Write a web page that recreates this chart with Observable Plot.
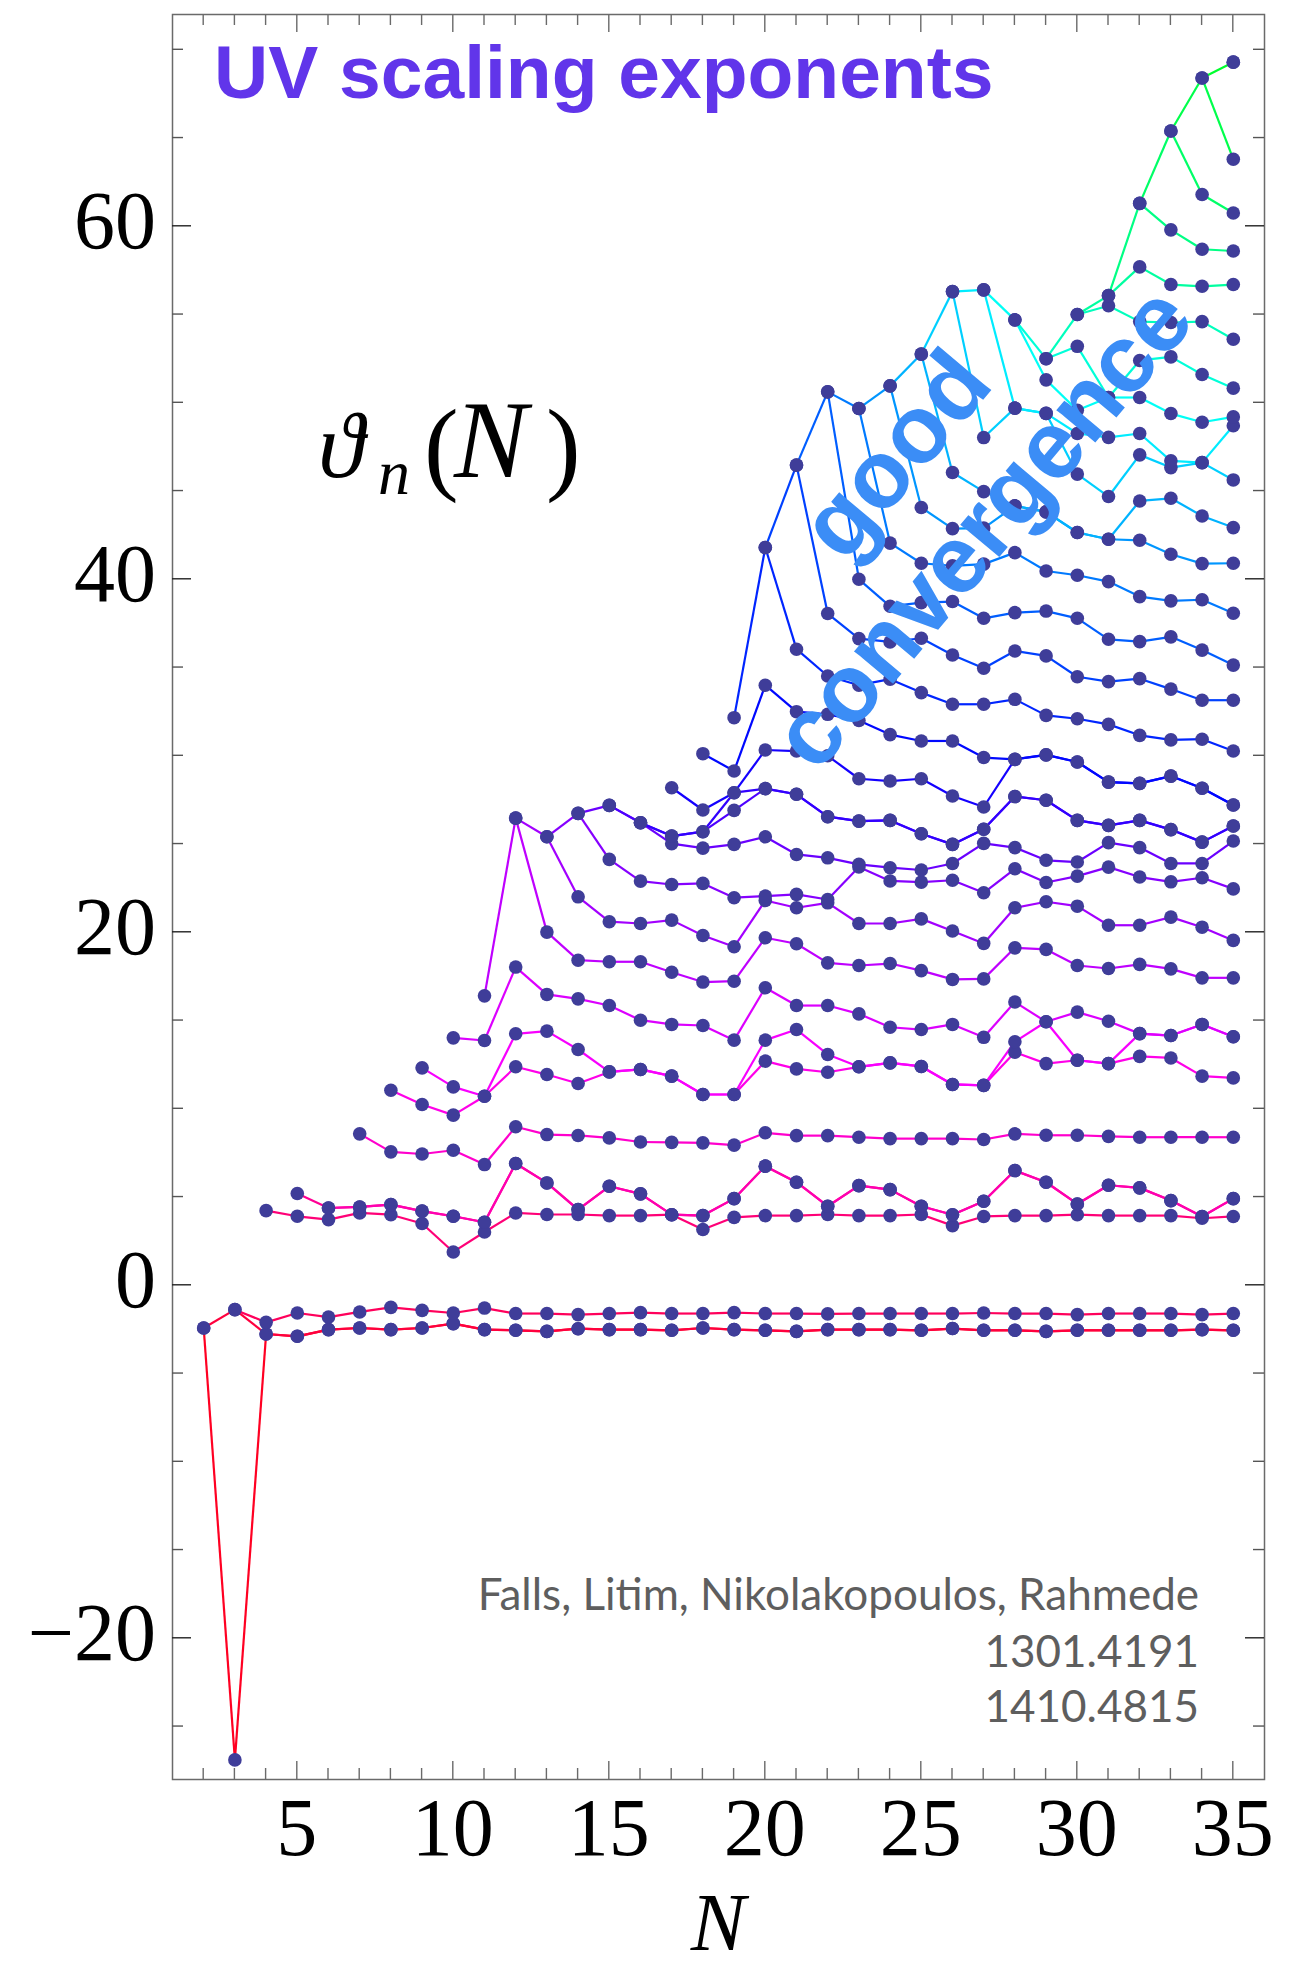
<!DOCTYPE html>
<html><head><meta charset="utf-8">
<script src="https://cdn.jsdelivr.net/npm/d3@7"></script>
<script src="https://cdn.jsdelivr.net/npm/@observablehq/plot@0.6"></script>
<style>html,body{margin:0;padding:0;background:#fff;} svg{display:block;}</style>
</head><body><div id="chart"></div>
<script>
// Real parts of the scaling exponents theta_n(N), sorted ascending, for each order N
const th02 = [-2.42, -2.42];
const th03 = [-26.89, -1.38, -1.38];
const th04 = [-2.76, -2.76, -2.10, 4.23];
const th05 = [-2.89, -2.89, -1.57, 3.91, 5.20];
const th06 = [-2.51, -2.51, -1.80, 3.72, 4.38, 4.38];
const th07 = [-2.42, -2.42, -1.51, 4.10, 4.44, 4.44, 8.58];
const th08 = [-2.51, -2.51, -1.25, 4.00, 4.57, 4.57, 7.56, 11.05];
const th09 = [-2.42, -2.42, -1.42, 3.50, 4.20, 4.20, 7.44, 10.24, 12.32];
const th10 = [-2.17, -2.17, -1.57, 1.89, 3.91, 3.91, 7.65, 9.64, 11.24, 14.02];
const th11 = [-2.51, -2.51, -1.29, 3.02, 3.57, 3.57, 6.84, 10.71, 10.71, 13.87, 16.40];
const th12 = [-2.55, -2.55, -1.60, 4.10, 6.90, 6.90, 8.98, 12.38, 14.25, 18.03, 26.47, 26.47];
const th13 = [-2.61, -2.61, -1.60, 4.01, 5.80, 5.80, 8.54, 11.94, 14.40, 16.48, 20.01, 25.41, 25.41];
const th14 = [-2.46, -2.46, -1.66, 4.01, 4.29, 4.29, 8.49, 11.43, 13.36, 16.23, 18.42, 22.01, 26.74, 26.74];
const th15 = [-2.51, -2.51, -1.60, 3.95, 5.61, 5.61, 8.35, 12.09, 12.09, 15.85, 18.33, 20.60, 24.13, 27.19, 27.19];
const th16 = [-2.51, -2.51, -1.55, 3.95, 5.18, 5.18, 8.12, 12.23, 12.23, 15.02, 18.33, 20.50, 22.90, 26.21, 26.21, 26.21];
const th17 = [-2.55, -2.55, -1.60, 4.00, 4.00, 4.00, 8.10, 11.85, 11.85, 14.78, 17.74, 20.69, 22.71, 25.02, 25.45, 25.45, 28.19];
const th18 = [-2.42, -2.42, -1.60, 3.16, 3.95, 3.95, 8.07, 10.81, 10.81, 14.72, 17.18, 19.82, 22.77, 24.77, 25.70, 25.70, 26.93, 30.12];
const th19 = [-2.51, -2.51, -1.55, 3.85, 4.91, 4.91, 7.94, 10.81, 10.81, 13.89, 17.23, 19.18, 21.96, 24.98, 26.91, 27.91, 27.91, 29.14, 32.16];
const th20 = [-2.55, -2.55, -1.60, 3.95, 6.75, 6.75, 8.64, 12.70, 13.89, 16.86, 19.69, 21.80, 22.05, 25.41, 28.14, 28.14, 30.33, 34.00, 41.80, 41.80];
const th21 = [-2.61, -2.61, -1.60, 3.95, 5.84, 5.84, 8.48, 12.26, 14.49, 15.85, 19.35, 21.39, 22.15, 24.41, 27.82, 27.82, 30.27, 32.50, 36.04, 46.47, 46.47];
const th22 = [-2.51, -2.51, -1.62, 4.01, 4.48, 4.48, 8.48, 12.07, 13.08, 15.85, 18.27, 21.67, 21.86, 24.22, 26.55, 26.55, 30.00, 32.35, 34.52, 38.06, 50.62, 50.62];
const th23 = [-2.51, -2.51, -1.60, 3.95, 5.65, 5.65, 8.39, 12.38, 12.38, 15.38, 18.12, 20.50, 23.70, 23.85, 26.30, 26.30, 28.70, 32.00, 34.00, 36.64, 40.00, 49.68, 49.68];
const th24 = [-2.51, -2.51, -1.60, 3.95, 5.42, 5.42, 8.31, 12.60, 12.60, 14.62, 18.23, 20.50, 22.91, 23.66, 26.34, 26.34, 28.57, 31.20, 34.34, 36.45, 38.47, 42.05, 50.96, 50.96];
const th25 = [-2.55, -2.55, -1.60, 4.01, 4.48, 4.48, 8.31, 12.40, 12.40, 14.49, 17.83, 20.76, 22.84, 23.53, 25.58, 25.58, 28.70, 30.84, 33.58, 36.66, 38.68, 40.91, 44.07, 52.76, 52.76];
const th26 = [-2.45, -2.45, -1.60, 3.38, 4.00, 4.00, 8.31, 11.38, 11.38, 14.78, 17.33, 20.07, 22.95, 23.90, 24.98, 24.98, 27.72, 30.84, 32.92, 35.71, 38.74, 40.76, 42.87, 46.05, 56.30, 56.30];
const th27 = [-2.55, -2.55, -1.57, 3.90, 4.76, 4.76, 8.26, 11.33, 11.33, 14.05, 17.36, 19.37, 22.24, 25.04, 25.84, 25.84, 27.10, 29.90, 32.92, 34.96, 37.79, 40.86, 42.90, 44.97, 48.03, 56.40, 56.40];
const th28 = [-2.55, -2.55, -1.60, 3.95, 6.50, 6.50, 8.58, 13.21, 13.80, 16.05, 19.12, 21.39, 23.60, 24.80, 27.69, 27.69, 29.80, 29.80, 33.20, 35.94, 38.11, 41.51, 44.16, 44.16, 49.70, 49.70, 54.70, 54.70];
const th29 = [-2.61, -2.61, -1.60, 3.95, 5.84, 5.84, 8.50, 12.56, 14.93, 14.93, 19.03, 21.73, 22.82, 24.08, 27.48, 27.48, 30.05, 30.05, 32.29, 35.66, 38.20, 40.47, 43.82, 43.82, 49.40, 49.40, 51.30, 52.50, 52.50];
const th30 = [-2.55, -2.55, -1.66, 4.00, 4.61, 4.61, 8.50, 12.75, 12.75, 15.48, 18.12, 21.48, 23.18, 23.98, 26.34, 26.34, 29.65, 29.65, 32.10, 34.48, 37.79, 40.23, 42.65, 42.65, 45.96, 48.26, 49.58, 53.20, 55.00, 55.00];
const th31 = [-2.55, -2.55, -1.60, 3.95, 5.67, 5.67, 8.44, 12.56, 12.56, 14.96, 17.95, 20.40, 23.69, 25.08, 26.06, 26.06, 28.51, 28.51, 31.78, 34.20, 36.60, 39.87, 42.27, 42.27, 44.69, 48.04, 50.30, 50.30, 55.50, 56.07, 56.07];
const th32 = [-2.55, -2.55, -1.60, 3.95, 5.52, 5.52, 8.39, 12.97, 14.26, 14.26, 18.18, 20.40, 23.13, 24.80, 26.34, 26.34, 28.44, 28.44, 31.16, 34.37, 36.47, 39.02, 42.21, 44.44, 47.05, 48.26, 50.30, 52.40, 54.60, 57.70, 61.30, 61.30];
const th33 = [-2.55, -2.55, -1.60, 3.95, 4.80, 4.80, 8.39, 12.88, 14.15, 14.15, 17.93, 20.86, 22.86, 23.90, 25.82, 25.82, 28.85, 28.85, 30.90, 33.78, 36.74, 38.78, 41.42, 44.59, 46.33, 46.71, 49.39, 52.60, 54.55, 56.70, 59.80, 65.40, 65.40];
const th34 = [-2.51, -2.51, -1.66, 3.80, 3.90, 3.90, 8.39, 11.85, 14.78, 14.78, 17.42, 20.29, 23.09, 23.90, 25.11, 25.11, 28.16, 28.16, 30.94, 33.15, 35.99, 38.84, 40.89, 43.59, 46.61, 46.61, 48.90, 51.60, 54.60, 56.60, 58.70, 61.80, 68.40, 68.40];
const th35 = [-2.55, -2.55, -1.60, 3.90, 4.91, 4.91, 8.39, 11.75, 14.08, 14.08, 17.42, 19.54, 22.46, 25.17, 26.02, 26.02, 27.21, 27.21, 30.27, 33.15, 35.14, 38.08, 40.91, 42.93, 45.63, 48.70, 49.20, 50.83, 53.60, 56.70, 58.60, 60.75, 63.80, 69.30, 69.30];

const columns = [th02, th03, th04, th05, th06, th07, th08, th09, th10, th11, th12, th13, th14, th15, th16, th17, th18,
  th19, th20, th21, th22, th23, th24, th25, th26, th27, th28, th29, th30, th31, th32, th33, th34, th35];
const firstN = 2;

const xTickValues = d3.range(2, 36);
const xLabelValues = [5, 10, 15, 20, 25, 30, 35];
const yTickValues = d3.range(-25, 71, 5);
const yLabelValues = [-20, 0, 20, 40, 60];
const titleText = "UV scaling exponents";
const creditLines = ["Falls, Litim, Nikolakopoulos, Rahmede", "1301.4191", "1410.4815"];
const noteWords = ["good", "convergence"];

// tidy data
const points = [];
columns.forEach((col, i) => col.forEach((v, k) => points.push({N: firstN + i, k, v})));
const segments = [];
for (let i = 0; i < columns.length - 1; i++) {
  const a = columns[i], b = columns[i + 1];
  a.forEach((v, k) => segments.push({k, N1: firstN + i, v1: v, N2: firstN + i + 1, v2: b[k]}));
}
segments.sort((p, q) => p.k - q.k);
const hue = k => d3.hsl((352 - 6.7 * k + 360) % 360, 1, 0.5).formatHex();

const plot = Plot.plot({
  width: 1303, height: 1968,
  marginLeft: 172, marginRight: 39, marginTop: 14, marginBottom: 189,
  x: {domain: [1, 36], axis: null},
  y: {domain: [-28, 72], axis: null},
  color: {type: "identity"},
  style: {background: "white"},
  marks: [
    Plot.link(segments, {x1: "N1", y1: "v1", x2: "N2", y2: "v2", stroke: d => hue(d.k), strokeWidth: 2.2}),
    Plot.dot(points, {x: "N", y: "v", r: 6.8, fill: "#3f3d99"}),
    Plot.frame({stroke: "#6a6a6a", strokeWidth: 1.5})
  ]
});
document.getElementById("chart").appendChild(plot);

const svg = d3.select(plot);
const X = plot.scale("x"), Y = plot.scale("y");
const xL = X.apply(1), xR = X.apply(36), yT = Y.apply(72), yB = Y.apply(-28);
const g = svg.append("g").attr("text-anchor", "start");

// x ticks (bottom and top, inward)
xTickValues.forEach(n => {
  const x = X.apply(n), len = n % 5 === 0 ? 18 : 11;
  g.append("line").attr("x1", x).attr("x2", x).attr("y1", yB).attr("y2", yB - len).attr("stroke", "#6a6a6a").attr("stroke-width", 1.4);
  g.append("line").attr("x1", x).attr("x2", x).attr("y1", yT).attr("y2", yT + len).attr("stroke", "#6a6a6a").attr("stroke-width", 1.4);
});
// y ticks (left and right, inward)
yTickValues.forEach(v => {
  const y = Y.apply(v), major = v % 20 === 0, len = major ? 19 : 11;
  const col = major ? "#222" : "#555";
  g.append("line").attr("x1", xL).attr("x2", xL + len).attr("y1", y).attr("y2", y).attr("stroke", col).attr("stroke-width", 1.4);
  g.append("line").attr("x1", xR).attr("x2", xR - len).attr("y1", y).attr("y2", y).attr("stroke", col).attr("stroke-width", 1.4);
});

const serif = "'Liberation Serif', 'DejaVu Serif', serif";
yLabelValues.forEach(v => {
  g.append("text").attr("x", xL - 16).attr("y", Y.apply(v) + 22)
    .attr("text-anchor", "end").attr("font-family", serif).attr("font-size", 82).attr("fill", "#000")
    .text(v < 0 ? "\u2212" + Math.abs(v) : String(v));
});
xLabelValues.forEach(n => {
  g.append("text").attr("x", X.apply(n)).attr("y", yB + 76)
    .attr("text-anchor", "middle").attr("font-family", serif).attr("font-size", 82).attr("fill", "#000")
    .text(String(n));
});
// x axis label
g.append("text").attr("x", (xL + xR) / 2).attr("y", 1950).attr("text-anchor", "middle")
  .attr("font-family", serif).attr("font-style", "italic").attr("font-size", 82).text("N");

// y label  ϑ_n(N) as one text element
const lab = g.append("text").attr("font-family", serif).attr("fill", "#000").attr("text-anchor", "start").attr("y", 477);
lab.append("tspan").attr("x", 318).attr("y", 477).attr("font-size", 94).attr("font-style", "italic").text("\u03D1");
lab.append("tspan").attr("x", 378).attr("y", 494).attr("font-size", 64).attr("font-style", "italic").text("n");
lab.append("tspan").attr("x", 424).attr("y", 481).attr("font-size", 104).text("(");
lab.append("tspan").attr("x", 454).attr("y", 477).attr("font-size", 110).attr("font-style", "italic").text("N");
lab.append("tspan").attr("x", 546).attr("y", 481).attr("font-size", 104).text(")");

// title
g.append("text").attr("x", 214).attr("y", 98).attr("text-anchor", "start").attr("font-family", "'Liberation Sans', Arial, sans-serif")
  .attr("font-weight", "bold").attr("font-size", 75).attr("fill", "#6135ea").text(titleText);

// annotation
const sans = "'Liberation Sans', Arial, sans-serif";
[[noteWords[0], 920, 475], [noteWords[1], 1007, 548]].forEach(([w, x, y]) => {
  g.append("text").attr("transform", `translate(${x},${y}) rotate(-50)`).attr("text-anchor", "middle")
    .attr("font-family", sans).attr("font-weight", "bold").attr("font-size", 96).attr("fill", "#3b8df6").text(w);
});

// credits
[[creditLines[0], 1610], [creditLines[1], 1667], [creditLines[2], 1722]].forEach(([t, y]) => {
  g.append("text").attr("x", 1199).attr("y", y).attr("text-anchor", "end")
    .attr("font-family", "Lato, 'Open Sans', sans-serif").attr("font-size", 44).attr("fill", "#5e5e5e").text(t);
});
</script>
</body></html>
